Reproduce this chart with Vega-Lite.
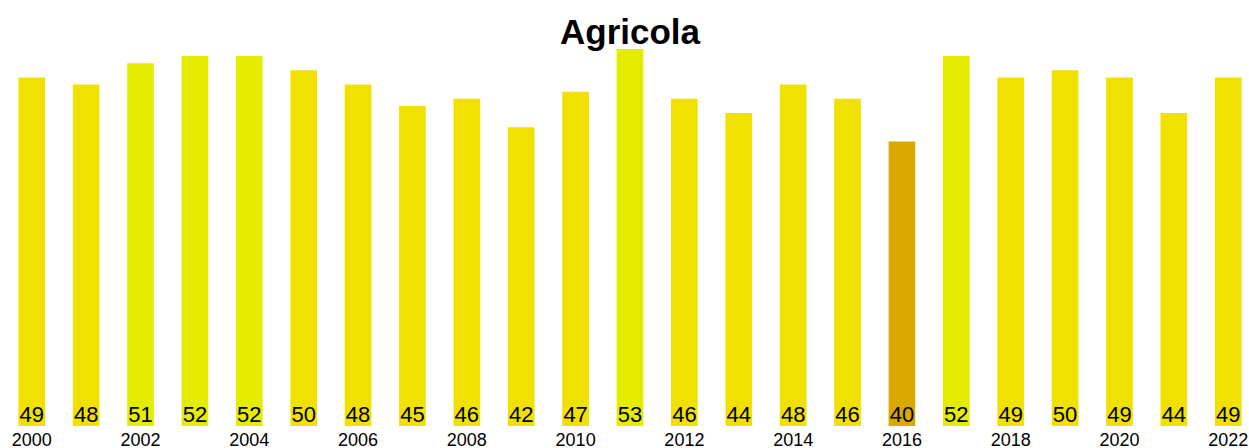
{
  "$schema": "https://vega.github.io/schema/vega-lite/v6.json",
  "autosize": {"type": "none"},
  "width": 1240,
  "height": 377,
  "padding": {"left": 10, "top": 49, "right": 0, "bottom": 22},
  "background": "white",
  "config": {"view": {"stroke": null}, "font": "Liberation Sans"},
  "title": {
    "text": "Agricola",
    "font": "Liberation Sans",
    "fontSize": 35,
    "fontWeight": "bold",
    "color": "black",
    "anchor": "middle",
    "baseline": "bottom",
    "offset": -3,
    "dy": 34
  },
  "data": {
    "values": [
      {"year": "2000", "value": 49}, {"year": "2001", "value": 48},
      {"year": "2002", "value": 51}, {"year": "2003", "value": 52},
      {"year": "2004", "value": 52}, {"year": "2005", "value": 50},
      {"year": "2006", "value": 48}, {"year": "2007", "value": 45},
      {"year": "2008", "value": 46}, {"year": "2009", "value": 42},
      {"year": "2010", "value": 47}, {"year": "2011", "value": 53},
      {"year": "2012", "value": 46}, {"year": "2013", "value": 44},
      {"year": "2014", "value": 48}, {"year": "2015", "value": 46},
      {"year": "2016", "value": 40}, {"year": "2017", "value": 52},
      {"year": "2018", "value": 49}, {"year": "2019", "value": 50},
      {"year": "2020", "value": 49}, {"year": "2021", "value": 44},
      {"year": "2022", "value": 49}
    ]
  },
  "encoding": {
    "x": {
      "field": "year",
      "type": "ordinal",
      "scale": {"paddingInner": 0.51, "paddingOuter": 0.155},
      "axis": {
        "title": null,
        "domain": false,
        "ticks": false,
        "tickSize": 0,
        "labelAngle": 0,
        "labelFontSize": 18,
        "labelColor": "black",
        "labelPadding": 5,
        "labelFont": "Liberation Sans",
        "labelExpr": "parseInt(datum.value) % 2 === 0 ? datum.value : ''"
      }
    }
  },
  "layer": [
    {
      "mark": {"type": "bar"},
      "encoding": {
        "y": {
          "field": "value",
          "type": "quantitative",
          "scale": {"domain": [0, 53], "nice": false},
          "axis": null
        },
        "color": {
          "field": "value",
          "type": "quantitative",
          "scale": {"type": "threshold", "domain": [41, 51], "range": ["#d8a900", "#f1e100", "#e4ec00"]},
          "legend": null
        }
      }
    },
    {
      "mark": {"type": "text", "baseline": "alphabetic", "dy": -4, "fontSize": 22, "color": "black", "font": "Liberation Sans"},
      "encoding": {
        "y": {"datum": 0, "type": "quantitative"},
        "text": {"field": "value", "type": "quantitative"}
      }
    }
  ]
}
